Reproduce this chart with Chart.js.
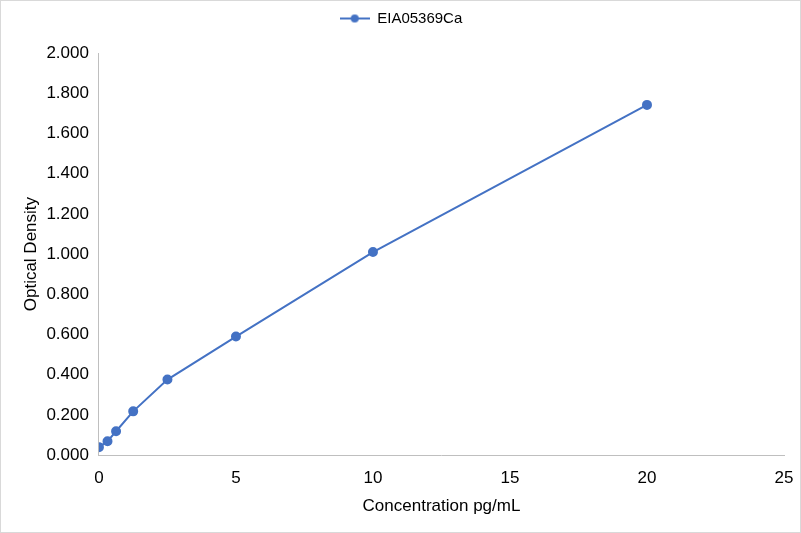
<!DOCTYPE html>
<html>
<head>
<meta charset="utf-8">
<script src="https://cdn.jsdelivr.net/npm/chart.js@4/dist/chart.umd.min.js"></script>
<style>
  html, body { margin: 0; padding: 0; background: #fff; }
  #wrap { width: 799px; height: 531px; border: 1px solid #d9d9d9; }
</style>
</head>
<body>
<div id="wrap"><canvas id="line_chart" width="799" height="531"></canvas></div>
<script>
var seriesName = "EIA05369Ca";
var concentrations = [0, 0.3125, 0.625, 1.25, 2.5, 5, 10, 20];
var opticalDensity = [0.040, 0.069, 0.119, 0.218, 0.376, 0.590, 1.010, 1.742];

var points = concentrations.map(function (x, i) {
    return { x: x, y: opticalDensity[i] };
});

var lineColor = '#4472C4';
var axisFont = { family: "'Liberation Sans', Arial, sans-serif", size: 17 };
var legendFont = { family: "'Liberation Sans', Arial, sans-serif", size: 15 };

// legend marker: short line with a dot, like the series
var marker = document.createElement('canvas');
marker.width = 30;
marker.height = 10;
var mctx = marker.getContext('2d');
mctx.strokeStyle = lineColor;
mctx.lineWidth = 2;
mctx.beginPath();
mctx.moveTo(0, 5);
mctx.lineTo(30, 5);
mctx.stroke();
mctx.fillStyle = lineColor;
mctx.beginPath();
mctx.arc(15, 5, 4, 0, Math.PI * 2);
mctx.fill();

var legendMargin = {
    id: 'legendMargin',
    beforeInit: function (chart) {
        var fit = chart.legend.fit;
        chart.legend.fit = function () {
            fit.bind(chart.legend)();
            this.height += 17;
        };
    }
};

new Chart(document.getElementById("line_chart").getContext("2d"), {
    type: 'line',
    data: {
        datasets: [{
            label: seriesName,
            data: points,
            borderColor: lineColor,
            backgroundColor: lineColor,
            pointBackgroundColor: lineColor,
            pointBorderColor: lineColor,
            pointRadius: 4,
            borderWidth: 2,
            tension: 0
        }]
    },
    options: {
        responsive: false,
        animation: false,
        layout: { padding: { left: 17, right: 16, top: 0, bottom: 15 } },
        plugins: {
            legend: {
                position: 'top',
                labels: {
                    color: '#000',
                    font: legendFont,
                    usePointStyle: true,
                    pointStyleWidth: 30,
                    padding: 10,
                    generateLabels: function (chart) {
                        return [{
                            text: seriesName,
                            fillStyle: lineColor,
                            strokeStyle: lineColor,
                            pointStyle: marker,
                            lineWidth: 0,
                            datasetIndex: 0
                        }];
                    }
                }
            },
            tooltip: { enabled: false }
        },
        scales: {
            x: {
                type: 'linear',
                min: 0,
                max: 25,
                ticks: { stepSize: 5, color: '#000', font: axisFont, padding: 5 },
                grid: { display: false },
                border: { display: true, color: '#bfbfbf', width: 1 },
                title: { display: true, text: 'Concentration pg/mL', color: '#000', font: axisFont, padding: { top: 3, bottom: 0 } }
            },
            y: {
                min: 0,
                max: 2,
                ticks: {
                    stepSize: 0.2,
                    color: '#000',
                    font: axisFont,
                    padding: 2,
                    callback: function (v) { return v.toFixed(3); }
                },
                grid: { display: false },
                border: { display: true, color: '#bfbfbf', width: 1 },
                title: { display: true, text: 'Optical Density', color: '#000', font: axisFont, padding: 3 }
            }
        }
    },
    plugins: [legendMargin]
});
</script>
</body>
</html>
